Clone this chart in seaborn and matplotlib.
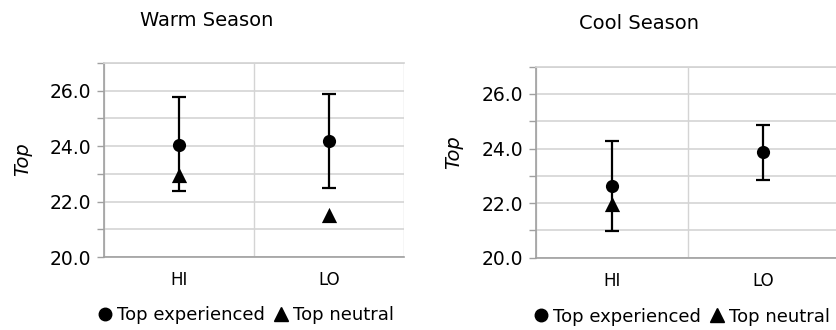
import matplotlib
matplotlib.use("Agg")
import matplotlib.pyplot as plt
from matplotlib.lines import Line2D
import numpy as np
import pandas as pd
import seaborn as sns

categories = ["HI", "LO"]
panels = ["Warm Season", "Cool Season"]

warm_exp = [24.03, 24.17]
warm_exp_low = [22.37, 22.49]
warm_exp_high = [25.77, 25.87]
warm_neutral = [22.95, 21.5]

cool_exp = [22.63, 23.87]
cool_exp_low = [20.99, 22.84]
cool_exp_high = [24.26, 24.87]
cool_neutral = [21.98, np.nan]

y_ticks = [20.0, 22.0, 24.0, 26.0]
y_minor = [21.0, 23.0, 25.0, 27.0]

sns.set_theme(style="white")
plt.rcParams["font.family"] = ["DejaVu Sans"]
plt.rcParams["text.color"] = "black"
plt.rcParams["axes.labelcolor"] = "black"
plt.rcParams["xtick.labelcolor"] = "black"
plt.rcParams["ytick.labelcolor"] = "black"

fig = plt.figure(figsize=(8.36, 3.3), dpi=100)
ax_w = fig.add_axes([0.1244, 0.2212, 0.3589, 0.5879])
ax_c = fig.add_axes([0.6411, 0.2191, 0.3629, 0.5788])

grid_c = "#d4d4d4"
spine_c = "#a0a0a0"

def draw(ax, exp, lo, hi, neu, title, tx, ty, ylab_x, ylab_y):
    df_e = pd.DataFrame({"cat": categories, "val": exp})
    df_n = pd.DataFrame({"cat": categories, "val": neu}).dropna()
    ax.errorbar(categories, exp,
                yerr=[np.array(exp) - np.array(lo), np.array(hi) - np.array(exp)],
                fmt="none", ecolor="black", elinewidth=1.6, capsize=5, capthick=1.6,
                zorder=3)
    sns.scatterplot(data=df_e, x="cat", y="val", marker="o", s=90, color="black",
                    edgecolor="black", linewidth=0, ax=ax, zorder=4)
    sns.scatterplot(data=df_n, x="cat", y="val", marker="^", s=120, color="black",
                    edgecolor="black", linewidth=0, ax=ax, zorder=4)
    ax.set_xlim(-0.5, 1.5)
    ax.set_ylim(20, 27)
    ax.set_yticks(y_ticks)
    ax.set_yticklabels([f"{v:.1f}" for v in y_ticks], fontsize=13.5)
    ax.set_yticks(y_minor, minor=True)
    ax.set_xticks([0, 1])
    ax.set_xticklabels(categories, fontsize=12)
    ax.set_xticks([-0.5, 0.5, 1.5], minor=True)
    ax.tick_params(axis="x", which="major", length=0, pad=10)
    ax.tick_params(axis="x", which="minor", length=5, width=1, color=spine_c, direction="out")
    ax.tick_params(axis="y", which="both", length=5, width=1, color=spine_c, direction="out",
                   left=True, pad=4)
    ax.grid(True, axis="y", which="both", color=grid_c, linewidth=1.2)
    ax.grid(True, axis="x", which="minor", color=grid_c, linewidth=1.0)
    ax.grid(False, axis="x", which="major")
    ax.set_axisbelow(True)
    for s in ["left", "bottom"]:
        ax.spines[s].set_color(spine_c)
        ax.spines[s].set_linewidth(1.2)
    ax.spines["top"].set_color(grid_c)
    ax.spines["right"].set_visible(False)
    ax.set_xlabel("")
    ax.set_ylabel("Top", fontsize=14, style="italic")
    ax.yaxis.set_label_coords(ylab_x, ylab_y)
    fig.text(tx, ty, title, ha="center", va="center", fontsize=14)

draw(ax_w, warm_exp, warm_exp_low, warm_exp_high, warm_neutral, panels[0],
     0.2476, 0.939, -0.24, 0.505)
draw(ax_c, cool_exp, cool_exp_low, cool_exp_high, cool_neutral, panels[1],
     0.764, 0.929, -0.24, 0.553)

handles = [
    Line2D([], [], marker="o", color="black", linestyle="none", markersize=9),
    Line2D([], [], marker="^", color="black", linestyle="none", markersize=10.5),
]
labels = ["Top experienced", "Top neutral"]
for cx, cy in [(0.2955, 0.046), (0.8165, 0.040)]:
    fig.legend(handles, labels, loc="center", bbox_to_anchor=(cx, cy), ncol=2,
               frameon=False, fontsize=13, handlelength=0.6, handletextpad=0.35,
               columnspacing=0.6, borderpad=0, borderaxespad=0)

fig.savefig("out.png", dpi=100)
